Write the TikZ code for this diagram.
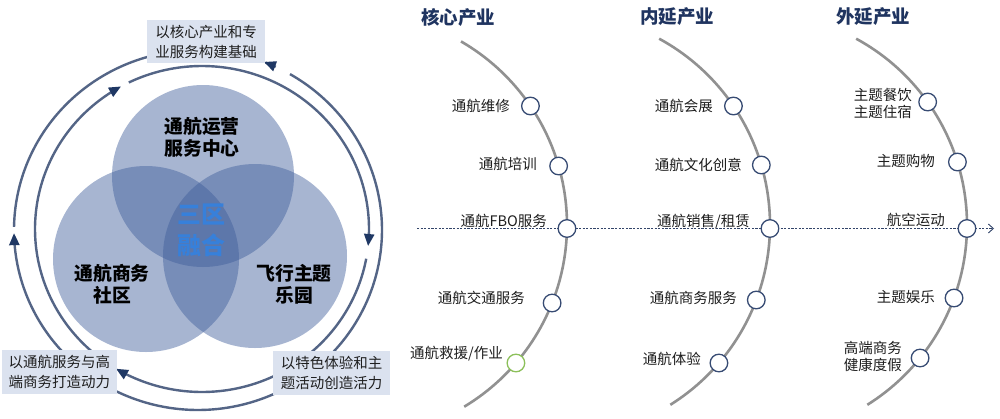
\documentclass[tikz,border=0pt]{standalone}
\usepackage{fontspec}
\setmainfont{Noto Sans CJK SC}
\usetikzlibrary{arrows.meta,calc}
\definecolor{ringc}{RGB}{84,101,134}
\definecolor{headc}{RGB}{31,56,100}
\definecolor{vennc}{RGB}{62,93,155}
\definecolor{boxc}{RGB}{219,226,239}
\definecolor{titlec}{RGB}{31,52,96}
\definecolor{arcc}{RGB}{145,145,145}
\definecolor{axisc}{RGB}{50,68,105}
\definecolor{nodec}{RGB}{55,75,115}
\definecolor{greenc}{RGB}{140,192,90}
\definecolor{centc}{RGB}{55,128,218}
\definecolor{labc}{RGB}{30,30,30}
\begin{document}
\begin{tikzpicture}[x=1pt,y=-1pt,
  ring/.style={draw=ringc,line width=2.4pt},
  headtip/.style={-{Triangle[length=12pt,width=10pt,color=headc]}},
  venn/.style={fill=vennc,fill opacity=0.45},
  vtext/.style={font=\bfseries\fontsize{18.8}{22}\selectfont,align=center,text=black,inner sep=0pt},
  ctext/.style={font=\bfseries\fontsize{24}{31}\selectfont,align=center,text=centc,inner sep=0pt},
  lbox/.style={fill=boxc,minimum width=118pt,minimum height=43pt,align=center,inner sep=2pt,
    font=\fontsize{14.5}{20}\selectfont,text=labc},
  title/.style={font=\bfseries\fontsize{18.5}{22}\selectfont,text=titlec,inner sep=0pt},
  arcline/.style={draw=arcc,line width=2.6pt},
  axis/.style={draw=axisc,line width=0.9pt,dash pattern=on 2.2pt off 1.4pt,
    -{Straight Barb[length=5pt,width=9pt]}},
  dotn/.style={circle,draw=nodec,line width=1.3pt,fill=white,minimum size=17.6pt,inner sep=0pt},
  dotg/.style={dotn,draw=greenc},
  lab/.style={font=\fontsize{14.5}{17}\selectfont,text=labc,inner sep=0pt,anchor=east,align=center}
]
\useasboundingbox (0,0) rectangle (1000,418);
\fill[white] (0,0) rectangle (1000,418);

% ---------- rings ----------
% outer ring
\draw[ring] plot[domain=300:480,samples=120,variable=\t] ({198+184*cos(\t)},{230+180*sin(\t)});
\draw[ring,headtip] plot[domain=120:179,samples=60,variable=\t] ({198+184*cos(\t)},{230+180*sin(\t)});
\draw[ring] plot[domain=181:265,samples=70,variable=\t] ({198+184*cos(\t)},{230+180*sin(\t)});
\draw[ring,headtip] plot[domain=295:291,samples=8,variable=\t] ({198+184*cos(\t)},{230+180*sin(\t)});
% inner ring
\draw[ring,headtip] plot[domain=125:241,samples=90,variable=\t] ({202+167*cos(\t)},{229+163*sin(\t)});
\draw[ring,headtip] plot[domain=244:366,samples=90,variable=\t] ({202+167*cos(\t)},{229+163*sin(\t)});
\draw[ring,headtip] plot[domain=10.5:121,samples=90,variable=\t] ({202+167*cos(\t)},{229+163*sin(\t)});

% ---------- Venn ----------
\fill[venn] (203,176) circle[radius=91];
\fill[venn] (146,259) circle[radius=93];
\fill[venn] (255,256) circle[radius=92];
\node[vtext] (vt) at (202,137.5) {通航运营\\服务中心};
\node[vtext] (vl) at (112,284) {通航商务\\社区};
\node[vtext] (vr) at (294,284) {飞行主题\\乐园};
\node[ctext] (vc) at (201.5,230.5) {三区\\融合};

% ---------- boxes ----------
\node[lbox] (bt) at (206,41.5) {以核心产业和专\\业服务构建基础};
\node[lbox,minimum width=115pt,minimum height=44pt] (bl) at (59.5,372) {以通航服务与高\\端商务打造动力};
\node[lbox,minimum width=117pt,minimum height=44pt] (br) at (331.5,373) {以特色体验和主\\题活动创造活力};

% ---------- right part ----------
\node[title] (t1) at (458,17) {核心产业};
\node[title] (t2) at (677,17) {内延产业};
\node[title] (t3) at (873,17) {外延产业};

\draw[arcline] plot[domain=-60:59,samples=80,variable=\t] ({355+212*cos(\t)},{225+212*sin(\t)});
\draw[arcline] plot[domain=-61.5:58,samples=80,variable=\t] ({558+212*cos(\t)},{225+212*sin(\t)});
\draw[arcline] plot[domain=-61.5:58,samples=80,variable=\t] ({755+212*cos(\t)},{225+212*sin(\t)});

\coordinate (axL) at (417,228.5);
\coordinate (axR) at (994,228.5);
\draw[axis] (axL) -- (axR);

% arc 1
\node[dotn] (a1) at ({355+212*cos(asin((106-225)/212))},106) {};
\node[dotn] (a2) at ({355+212*cos(asin((166-225)/212))},166) {};
\node[dotn] (a3) at ({355+212*cos(asin((228.5-225)/212))},228.5) {};
\node[dotn] (a4) at ({355+212*cos(asin((303-225)/212))},303) {};
\node[dotg] (a5) at ({355+212*cos(asin((363-225)/212))},363) {};
\node[lab] (la1) at (510,106) {通航维修};
\node[lab] (la2) at (537,164) {通航培训};
\node[lab] (la3) at (547,221) {通航FBO服务};
\node[lab] (la4) at (525,298) {通航交通服务};
\node[lab] (la5) at (503,354) {通航救援/作业};

% arc 2
\node[dotn] (b1) at ({558+212*cos(asin((106-225)/212))},106) {};
\node[dotn] (b2) at ({558+212*cos(asin((165-225)/212))},165) {};
\node[dotn] (b3) at ({558+212*cos(asin((228.5-225)/212))},228.5) {};
\node[dotn] (b4) at ({558+212*cos(asin((300-225)/212))},300) {};
\node[dotn] (b5) at ({558+212*cos(asin((363-225)/212))},363) {};
\node[lab] (lb1) at (713,106) {通航会展};
\node[lab] (lb2) at (742,165) {通航文化创意};
\node[lab] (lb3) at (750,222) {通航销售/租赁};
\node[lab] (lb4) at (737,298) {通航商务服务};
\node[lab] (lb5) at (701,359) {通航体验};

% arc 3
\node[dotn] (c1) at ({755+212*cos(asin((102-225)/212))},102) {};
\node[dotn] (c2) at ({755+212*cos(asin((162-225)/212))},162) {};
\node[dotn] (c3) at ({755+212*cos(asin((228.5-225)/212))},228.5) {};
\node[dotn] (c4) at ({755+212*cos(asin((298-225)/212))},298) {};
\node[dotn] (c5) at ({755+212*cos(asin((358-225)/212))},358) {};
\node[lab] (lc1) at (912,103.5) {主题餐饮\\主题住宿};
\node[lab] (lc2) at (935,161) {主题购物};
\node[lab] (lc3) at (945,220) {航空运动};
\node[lab] (lc4) at (935,297) {主题娱乐};
\node[lab] (lc5) at (902,356.5) {高端商务\\健康度假};
\end{tikzpicture}
\end{document}
